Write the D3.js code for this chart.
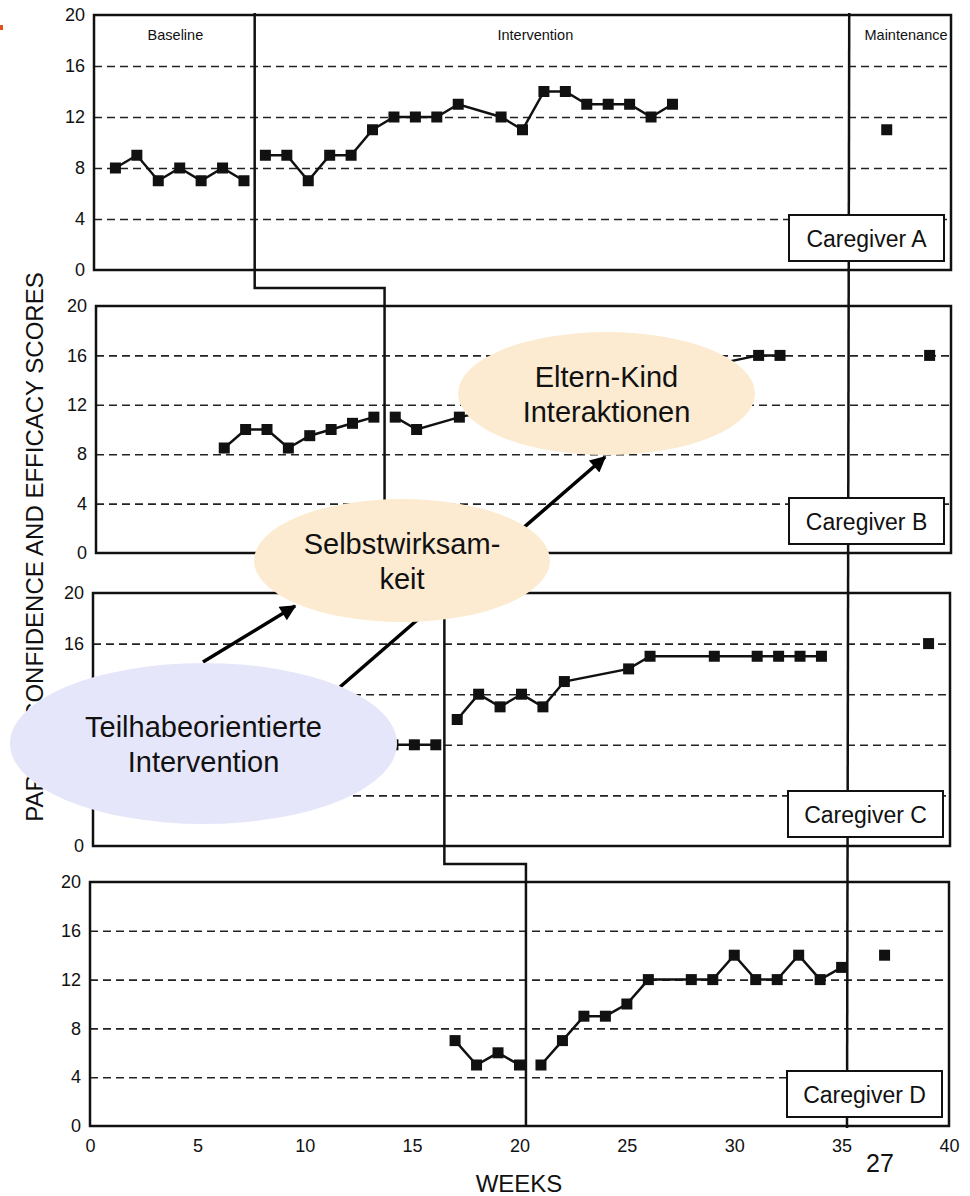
<!DOCTYPE html>
<html>
<head>
<meta charset="utf-8">
<title>Caregiver scores</title>
<script src="https://d3js.org/d3.v7.min.js"></script>
<style>
  html, body { margin: 0; background: #fff; }
  svg { display: block; font-family: "Liberation Sans", Arial, sans-serif; }
</style>
</head>
<body>
<svg id="svg"></svg>
<script>
const caregivers = ["Caregiver A", "Caregiver B", "Caregiver C", "Caregiver D"];
const phaseNames = ["Baseline", "Intervention", "Maintenance"];
const phaseNameWeeks = [3.8, 20.6, 37.9];
const yTicks = [0, 4, 8, 12, 16, 20];
const gridTicks = [4, 8, 12, 16];
const xTicks = [0, 5, 10, 15, 20, 25, 30, 35, 40];

// [week, score]
const baselineA = [[1, 8], [2, 9], [3, 7], [4, 8], [5, 7], [6, 8], [7, 7]];
const interventionA = [[8, 9], [9, 9], [10, 7], [11, 9], [12, 9], [13, 11], [14, 12], [15, 12], [16, 12],
  [17, 13], [19, 12], [20, 11], [21, 14], [22, 14], [23, 13], [24, 13], [25, 13], [26, 12], [27, 13]];
const maintenanceA = [[37, 11]];

const baselineB = [[6, 8.5], [7, 10], [8, 10], [9, 8.5], [10, 9.5], [11, 10], [12, 10.5], [13, 11]];
const interventionB = [[14, 11], [15, 10], [17, 11], [31, 16], [32, 16]];
const maintenanceB = [[39, 16]];

const baselineC = [[14, 8], [15, 8], [16, 8]];
const interventionC = [[17, 10], [18, 12], [19, 11], [20, 12], [21, 11], [22, 13], [25, 14], [26, 15],
  [29, 15], [31, 15], [32, 15], [33, 15], [34, 15]];
const maintenanceC = [[39, 16]];

const baselineD = [[17, 7], [18, 5], [19, 6], [20, 5]];
const interventionD = [[21, 5], [22, 7], [23, 9], [24, 9], [25, 10], [26, 12], [28, 12], [29, 12],
  [30, 14], [31, 12], [32, 12], [33, 14], [34, 12], [35, 13]];
const maintenanceD = [[37, 14]];

const series = [
  [baselineA, interventionA, maintenanceA],
  [baselineB, interventionB, maintenanceB],
  [baselineC, interventionC, maintenanceC],
  [baselineD, interventionD, maintenanceD]
];

const phaseChange = [7.5, 13.5, 16.4, 20.3];
const maintenanceStart = 35.25;

// panel frames in page pixels (the scan is a little skewed)
const panels = [
  { left: 94, right: 951, top: 15, bottom: 270 },
  { left: 96, right: 951, top: 306, bottom: 553 },
  { left: 93, right: 950, top: 593, bottom: 846 },
  { left: 90, right: 949, top: 882, bottom: 1126 }
];
const connectorY = [288, 573, 864];

const W = 970, H = 1196;
const ink = "#111";
const font = '"Liberation Sans", Arial, sans-serif';

const svg = d3.select("#svg").attr("width", W).attr("height", H);

svg.append("rect").attr("x", 0).attr("y", 25).attr("width", 3).attr("height", 5).attr("fill", "#e2501c");

panels.forEach(p => {
  p.x = d3.scaleLinear().domain([0, 40]).range([p.left, p.right]);
  p.y = d3.scaleLinear().domain([0, 20]).range([p.bottom, p.top]);

  const g = svg.append("g");

  g.append("g")
  .attr("transform", `translate(${p.left},0)`)
  .call(d3.axisLeft(p.y).tickValues(gridTicks).tickSize(-(p.right - p.left)).tickFormat(""))
  .call(a => a.select(".domain").remove())
  .selectAll("line")
  .attr("stroke", "#222")
  .attr("stroke-width", 1.6)
  .attr("stroke-dasharray", "8,5");

  g.append("g")
  .attr("transform", `translate(${p.left},0)`)
  .call(d3.axisLeft(p.y).tickValues(yTicks).tickSize(0).tickPadding(9))
  .call(a => a.select(".domain").remove())
  .selectAll("text")
  .attr("font-size", 18)
  .attr("font-family", font)
  .attr("fill", ink);

  g.append("rect")
  .attr("x", p.left).attr("y", p.top)
  .attr("width", p.right - p.left).attr("height", p.bottom - p.top)
  .attr("fill", "none").attr("stroke", ink).attr("stroke-width", 2.5);
});

// x axis under the last panel
const last = panels[3];
svg.append("g")
.attr("transform", `translate(0,${last.bottom})`)
.call(d3.axisBottom(last.x).tickValues(xTicks).tickSize(0).tickPadding(13))
.call(a => a.select(".domain").remove())
.selectAll("text")
.attr("font-size", 18)
.attr("font-family", font)
.attr("fill", ink);

// staircase phase change line
const stair = [[panels[0].x(phaseChange[0]), panels[0].top - 2]];
panels.forEach((p, i) => {
  const xi = p.x(phaseChange[i]);
  if (i > 0) stair.push([xi, connectorY[i - 1]]);
  stair.push([xi, i < 3 ? connectorY[i] : p.bottom]);
  if (i < 3) stair.push([panels[i + 1].x(phaseChange[i + 1]), connectorY[i]]);
});
svg.append("path")
.attr("d", d3.line()(stair))
.attr("fill", "none").attr("stroke", ink).attr("stroke-width", 2.5);

// maintenance line runs through all panels
svg.append("line")
.attr("x1", panels[0].x(maintenanceStart)).attr("y1", panels[0].top - 2)
.attr("x2", last.x(maintenanceStart)).attr("y2", last.bottom + 2)
.attr("stroke", ink).attr("stroke-width", 2.5);

// data
series.forEach((phases, i) => {
  const p = panels[i];
  const line = d3.line().x(d => p.x(d[0])).y(d => p.y(d[1]));
  phases.forEach(pts => {
    if (pts.length > 1) {
      svg.append("path")
      .attr("d", line(pts))
      .attr("fill", "none").attr("stroke", ink).attr("stroke-width", 2.5);
    }
    svg.append("g").selectAll("rect")
    .data(pts)
    .enter()
    .append("rect")
    .attr("x", d => p.x(d[0]) - 5.5)
    .attr("y", d => p.y(d[1]) - 5.5)
    .attr("width", 11).attr("height", 11)
    .attr("fill", ink);
  });
});

// caregiver label boxes
panels.forEach((p, i) => {
  const bw = 155, bh = 46;
  const bx = p.right - 7 - bw, by = p.bottom - 9 - bh;
  svg.append("rect")
  .attr("x", bx).attr("y", by).attr("width", bw).attr("height", bh)
  .attr("fill", "#fff").attr("stroke", ink).attr("stroke-width", 2);
  svg.append("text")
  .attr("x", bx + bw / 2).attr("y", by + 32)
  .attr("text-anchor", "middle")
  .attr("font-size", 23).attr("fill", ink)
  .text(caregivers[i]);
});

// phase names in the first panel
svg.append("g").selectAll("text")
.data(phaseNames)
.enter()
.append("text")
.attr("x", (d, i) => panels[0].x(phaseNameWeeks[i]))
.attr("y", 40)
.attr("text-anchor", "middle")
.attr("font-size", 14.5)
.attr("fill", ink)
.text(d => d);

// axis titles
svg.append("text")
.attr("transform", "translate(43,547) rotate(-90)")
.attr("text-anchor", "middle")
.attr("font-size", 24).attr("fill", ink)
.text("PARENT CONFIDENCE AND EFFICACY SCORES");

svg.append("text")
.attr("x", 519).attr("y", 1192)
.attr("text-anchor", "middle")
.attr("font-size", 24).attr("fill", ink)
.text("WEEKS");

svg.append("text")
.attr("x", 880).attr("y", 1172)
.attr("text-anchor", "middle")
.attr("font-size", 25).attr("fill", ink)
.text("27");

// annotation overlay
svg.append("defs").append("marker")
.attr("id", "head")
.attr("viewBox", "0 0 10 10")
.attr("refX", 9).attr("refY", 5)
.attr("markerUnits", "userSpaceOnUse")
.attr("markerWidth", 19).attr("markerHeight", 16)
.attr("orient", "auto")
.append("path")
.attr("d", "M0,0 L10,5 L0,10 z")
.attr("fill", "#000");

function bubble(b) {
  svg.append("ellipse")
  .attr("cx", b.cx).attr("cy", b.cy).attr("rx", b.rx).attr("ry", b.ry)
  .attr("fill", b.fill);
  b.lines.forEach((t, k) => {
    svg.append("text")
    .attr("x", b.cx).attr("y", b.cy - 6.5 + k * 35)
    .attr("text-anchor", "middle")
    .attr("font-size", 29).attr("fill", "#111")
    .text(t);
  });
}

function arrow(a) {
  svg.append("line")
  .attr("x1", a[0][0]).attr("y1", a[0][1])
  .attr("x2", a[1][0]).attr("y2", a[1][1])
  .attr("stroke", "#000").attr("stroke-width", 3.5)
  .attr("marker-end", "url(#head)");
}

bubble({ cx: 606.5, cy: 393.5, rx: 148.5, ry: 61.5, fill: "#fcebd1", lines: ["Eltern-Kind", "Interaktionen"] });
arrow([[340, 687], [605, 457]]);
bubble({ cx: 402, cy: 560.5, rx: 148, ry: 61.5, fill: "#fcebd1", lines: ["Selbstwirksam-", "keit"] });
arrow([[203, 662], [295, 606]]);
bubble({ cx: 203.5, cy: 743.5, rx: 193.5, ry: 80.5, fill: "#e6e6fa", lines: ["Teilhabeorientierte", "Intervention"] });
</script>
</body>
</html>
